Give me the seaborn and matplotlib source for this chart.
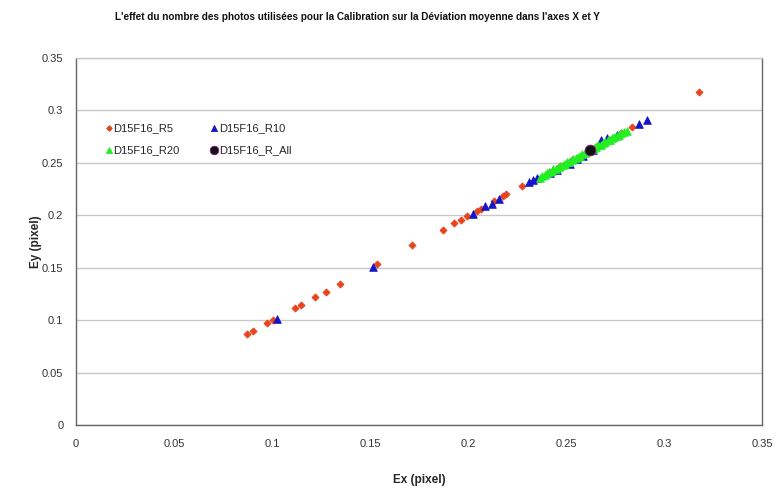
import matplotlib
matplotlib.use("Agg")
import matplotlib.pyplot as plt
import seaborn as sns
import pandas as pd

sns.set_style("white")
plt.rcParams['font.family'] = ['Liberation Sans', 'DejaVu Sans']

# ---- data ----
r5_x = [0.0874, 0.0901, 0.0976, 0.1003, 0.1116, 0.1146, 0.1221, 0.1276, 0.1347,
        0.1537, 0.1714, 0.1871, 0.1929, 0.1963, 0.1993, 0.2047, 0.2065, 0.2133,
        0.2180, 0.2194, 0.2276, 0.2410, 0.2470, 0.2530, 0.2600, 0.2660, 0.2720,
        0.2780, 0.2837, 0.3177]
r5_y = [0.0870, 0.0892, 0.0974, 0.1000, 0.1114, 0.1140, 0.1216, 0.1273, 0.1343,
        0.1540, 0.1717, 0.1863, 0.1927, 0.1959, 0.1990, 0.2041, 0.2060, 0.2136,
        0.2180, 0.2200, 0.2280, 0.2405, 0.2468, 0.2532, 0.2598, 0.2662, 0.2722,
        0.2783, 0.2845, 0.3171]

r10_x = [0.1024, 0.1514, 0.2027, 0.2088, 0.2122, 0.2157, 0.2313, 0.2330, 0.2350,
         0.2418, 0.2452, 0.2520, 0.2558, 0.2588, 0.2640, 0.2680, 0.2707, 0.2758,
         0.2874, 0.2912]
r10_y = [0.1012, 0.1508, 0.2016, 0.2092, 0.2111, 0.2155, 0.2318, 0.2333, 0.2352,
         0.2403, 0.2435, 0.2486, 0.2536, 0.2562, 0.2625, 0.2714, 0.2735, 0.2765,
         0.2867, 0.2911]

r20_x = [0.2367, 0.2380, 0.2392, 0.2401, 0.2415, 0.2428, 0.2436, 0.2449, 0.2462,
         0.2470, 0.2483, 0.2495, 0.2504, 0.2516, 0.2529, 0.2537, 0.2550, 0.2561,
         0.2572, 0.2583, 0.2595, 0.2603, 0.2618, 0.2632, 0.2641, 0.2655, 0.2664,
         0.2677, 0.2688, 0.2699, 0.2712, 0.2724, 0.2733, 0.2746, 0.2758, 0.2770,
         0.2781, 0.2795, 0.2810]
r20_y = [0.2359, 0.2376, 0.2384, 0.2399, 0.2410, 0.2421, 0.2438, 0.2444, 0.2458,
         0.2473, 0.2480, 0.2492, 0.2507, 0.2512, 0.2525, 0.2540, 0.2546, 0.2560,
         0.2568, 0.2585, 0.2591, 0.2606, 0.2614, 0.2630, 0.2644, 0.2651, 0.2668,
         0.2674, 0.2690, 0.2697, 0.2715, 0.2721, 0.2737, 0.2743, 0.2760, 0.2768,
         0.2784, 0.2792, 0.2803]

rall_x = [0.2622]
rall_y = [0.2626]

labels = ["D15F16_R5", "D15F16_R10", "D15F16_R20", "D15F16_R_All"]

x_ticks = [0, 0.05, 0.1, 0.15, 0.2, 0.25, 0.3, 0.35]
x_tick_labels = ["0", "0.05", "0.1", "0.15", "0.2", "0.25", "0.3", "0.35"]
y_ticks = [0, 0.05, 0.1, 0.15, 0.2, 0.25, 0.3, 0.35]
y_tick_labels = ["0", "0.05", "0.1", "0.15", "0.2", "0.25", "0.3", "0.35"]

title = "L'effet du nombre des photos utilisées pour la Calibration sur la Déviation moyenne dans l'axes X et Y"

# ---- figure ----
fig = plt.figure(figsize=(7.78, 4.93), dpi=100)
ax = fig.add_axes([76/778, 1 - 425/493, (762 - 76)/778, (425 - 58)/493])

series = [
    (r5_x, r5_y, labels[0], "D", "#e8441c", "#e8441c", 13),
    (r10_x, r10_y, labels[1], "^", "#1414c8", "#1414c8", 30),
    (r20_x, r20_y, labels[2], "^", "#22ee22", "#22ee22", 30),
    (rall_x, rall_y, labels[3], "o", "#111111", "#8a1a8a", 60),
]
for xs, ys, lab, mk, fc, ec, s in series:
    df = pd.DataFrame({"x": xs, "y": ys})
    sns.scatterplot(data=df, x="x", y="y", ax=ax, marker=mk, color=fc,
                    edgecolor=ec, linewidth=0.6, s=s, label=lab, zorder=3)

ax.set_xlim(0, 0.35)
ax.set_ylim(0, 0.35)
ax.set_xticks(x_ticks)
ax.set_xticklabels(x_tick_labels)
ax.set_yticks(y_ticks)
ax.set_yticklabels(y_tick_labels)
ax.tick_params(axis="both", direction="out", length=4, width=0.8,
               colors="#555555", labelcolor="#333333", labelsize=8)
ax.tick_params(axis="y", pad=5)
ax.tick_params(axis="x", pad=6)
ax.yaxis.grid(True, color="#c8c8c8", linewidth=1)
ax.xaxis.grid(False)
ax.set_axisbelow(True)
for side in ["left", "bottom", "right"]:
    ax.spines[side].set_color("#666666")
    ax.spines[side].set_linewidth(1)
ax.spines["top"].set_color("#c8c8c8")
ax.spines["top"].set_linewidth(1)

ax.set_xlabel("Ex (pixel)", fontsize=8.5, fontweight="bold", labelpad=18)
ax.set_ylabel("Ey (pixel)", fontsize=8.5, fontweight="bold", labelpad=0)

fig.text(357/778, 1 - 17/493, title, ha="center", va="center",
         fontsize=7.2, fontweight="bold", color="#111111")

handles, labs = ax.get_legend_handles_labels()
order = [0, 2, 1, 3]
leg = ax.legend([handles[i] for i in order], [labs[i] for i in order],
                loc="upper left", bbox_to_anchor=(0.032, 0.835), ncol=2,
                frameon=False, fontsize=8, handletextpad=-0.2, handlelength=1.2,
                columnspacing=2.5, labelspacing=1.1, markerscale=0.8,
                borderaxespad=0)

fig.savefig("out.png", dpi=100, facecolor="white")
